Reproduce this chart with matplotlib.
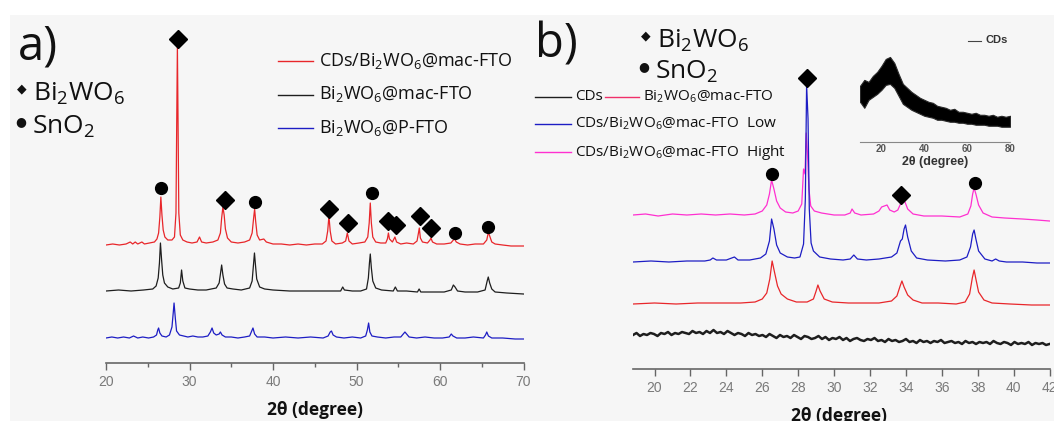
import numpy as np
import matplotlib
matplotlib.use("Agg")
import matplotlib.pyplot as plt
from matplotlib.patches import Rectangle

plt.rcParams['font.family'] = ['Open Sans', 'DejaVu Sans']
plt.rcParams['mathtext.fontset'] = 'custom'
plt.rcParams['mathtext.rm'] = 'Open Sans'
plt.rcParams['mathtext.bf'] = 'Open Sans:bold'
plt.rcParams['text.color'] = '#111111'

BWO = r"Bi$_\mathregular{2}$WO$_\mathregular{6}$"
SNO = r"SnO$_\mathregular{2}$"

# ---------------- panel a data (2theta, intensity a.u. incl. stacking offset) ----------------
a_red = [(20, 118), (20.8, 119), (21.6, 118), (22.4, 119), (22.9, 121), (23.2, 119), (23.5, 121), (23.8, 119),
         (24.3, 121), (24.6, 119), (25.2, 120), (25.8, 121), (26.1, 124), (26.3, 130), (26.45, 146),
         (26.57, 166), (26.7, 148), (26.85, 133), (27.05, 126), (27.4, 123), (27.9, 123), (28.2, 126),
         (28.38, 150), (28.47, 240), (28.55, 317), (28.63, 240), (28.72, 150), (28.9, 128), (29.2, 123),
         (29.7, 121), (30.3, 120), (30.9, 121), (31.2, 126), (31.45, 121), (32.0, 120), (32.8, 121),
         (33.4, 123), (33.7, 130), (33.85, 145), (34.0, 156), (34.15, 148), (34.3, 134), (34.55, 125),
         (35.0, 121), (35.8, 120), (36.6, 121), (37.2, 123), (37.5, 130), (37.68, 145), (37.8, 154),
         (37.92, 142), (38.1, 128), (38.4, 123), (38.9, 124), (39.2, 121), (40, 119), (41, 119), (42, 118),
         (43, 119), (44, 118), (45, 119), (45.9, 119), (46.35, 122), (46.55, 132), (46.7, 147), (46.85, 132),
         (47.05, 122), (47.5, 119), (48.3, 120), (48.7, 122), (48.9, 130), (49.1, 122), (49.5, 119),
         (50.3, 120), (51.0, 121), (51.35, 126), (51.52, 140), (51.65, 160), (51.78, 140), (51.95, 126),
         (52.3, 121), (52.9, 120), (53.5, 120), (53.7, 124), (53.82, 130), (53.95, 124), (54.3, 121),
         (54.6, 126), (54.8, 121), (55.3, 119), (56, 120), (56.8, 119), (57.25, 122), (57.42, 130),
         (57.52, 135), (57.65, 125), (57.9, 121), (58.5, 120), (58.8, 123), (58.92, 125), (59.1, 121),
         (59.6, 119), (60.5, 119), (61.3, 120), (61.6, 123), (61.75, 124), (61.95, 121), (62.4, 119),
         (63.3, 118), (64.2, 119), (65.2, 119), (65.6, 123), (65.8, 131), (65.95, 127), (66.2, 121),
         (66.6, 119), (67.5, 118), (68.5, 117), (70, 117)]
a_black = [(20, 72), (21.5, 73), (23, 72), (24.5, 73), (25.6, 74), (26.0, 77), (26.25, 85), (26.4, 100),
           (26.52, 120), (26.65, 104), (26.8, 88), (27.0, 80), (27.4, 76), (28.0, 74), (28.7, 75), (28.9, 80),
           (29.05, 93), (29.2, 82), (29.45, 75), (30, 74), (31, 73), (32, 73), (33.2, 75), (33.55, 80),
           (33.72, 90), (33.85, 98), (34.0, 88), (34.2, 79), (34.5, 75), (35.2, 74), (36.2, 73), (37.2, 75),
           (37.5, 82), (37.65, 97), (37.78, 110), (37.9, 98), (38.05, 84), (38.4, 76), (39, 74), (40, 73),
           (42, 72), (44, 72), (46, 72), (48.1, 72), (48.35, 76), (48.55, 73), (49.5, 72), (50.5, 72),
           (51.2, 74), (51.42, 85), (51.55, 100), (51.65, 109), (51.78, 95), (51.95, 82), (52.3, 75),
           (53, 73), (54.4, 72), (54.65, 76), (54.9, 72), (56, 72), (57.3, 71), (57.5, 74), (57.7, 71),
           (59, 71), (60.5, 71), (61.35, 73), (61.6, 78), (61.8, 76), (62.1, 72), (63, 71), (64.5, 71),
           (65.4, 73), (65.65, 82), (65.78, 86), (65.95, 80), (66.2, 74), (66.6, 71), (68, 70), (70, 69)]
a_blue = [(20, 25), (20.7, 26), (21.4, 25), (22.1, 26), (22.8, 25), (23.3, 27), (23.8, 25), (24.4, 26),
          (25.1, 25), (25.7, 26), (26.05, 28), (26.2, 33), (26.3, 35), (26.45, 30), (26.7, 27), (27.2, 26),
          (27.6, 28), (27.9, 36), (28.05, 50), (28.15, 60), (28.3, 45), (28.45, 32), (28.8, 28), (29.3, 27),
          (29.8, 26), (30.4, 27), (31, 26), (31.6, 26), (32.2, 27), (32.5, 31), (32.7, 35), (32.9, 30),
          (33.2, 28), (33.55, 29), (33.7, 31), (33.9, 28), (34.3, 26), (35, 26), (35.8, 25), (36.6, 26),
          (37.2, 27), (37.45, 32), (37.6, 35), (37.8, 29), (38.1, 26), (39, 26), (40, 25), (41.5, 26),
          (43, 25), (44.5, 26), (46, 25), (46.6, 27), (46.85, 31), (47, 32), (47.2, 28), (47.6, 26),
          (48.5, 25), (49.5, 26), (50.5, 25), (51.1, 27), (51.3, 33), (51.45, 40), (51.6, 31), (51.85, 27),
          (52.5, 26), (53.5, 25), (54.5, 26), (55.3, 26), (55.6, 29), (55.8, 31), (56.0, 29), (56.3, 26),
          (57.2, 25), (58.2, 26), (59.3, 25), (60.3, 25), (61.1, 26), (61.35, 29), (61.55, 27), (62, 25),
          (63, 25), (64, 26), (65.2, 25), (65.45, 28), (65.6, 31), (65.8, 27), (66.2, 25), (67.5, 25),
          (69, 24), (70, 24)]
a_circles = [(26.6, 175), (37.8, 161), (51.8, 170), (61.8, 130), (65.75, 136)]
a_diamonds = [(28.6, 324), (34.25, 163), (46.7, 154), (48.95, 140), (53.8, 142), (54.7, 138),
              (57.6, 147), (58.9, 135)]
a_labels = ["CDs/" + BWO + "@mac-FTO", BWO + "@mac-FTO", BWO + "@P-FTO"]
a_ticks = [20, 30, 40, 50, 60, 70]
a_minor = [25, 35, 45, 55, 65]

# ---------------- panel b data ----------------
b_magenta = [(18.8, 154), (19.5, 155), (20.2, 153), (21, 155), (21.8, 154), (22.6, 155), (23.4, 154),
             (24.2, 155), (25, 154), (25.6, 155), (26.0, 158), (26.25, 164), (26.4, 175), (26.52, 189),
             (26.65, 180), (26.8, 168), (27.0, 161), (27.3, 157), (27.7, 156), (28.0, 158), (28.2, 165),
             (28.3, 200), (28.38, 195), (28.45, 236), (28.52, 215), (28.6, 180), (28.7, 163), (28.9, 158),
             (29.3, 156), (30, 154), (30.6, 154), (30.9, 156), (31.0, 160), (31.15, 156), (31.5, 154),
             (32.2, 155), (32.5, 158), (32.65, 162), (32.8, 163), (32.95, 164), (33.1, 159), (33.35, 157),
             (33.55, 159), (33.7, 165), (33.82, 169), (33.95, 167), (34.1, 160), (34.4, 155), (35, 153),
             (36, 153), (37, 152), (37.45, 155), (37.62, 163), (37.72, 175), (37.8, 181), (37.9, 175),
             (38.05, 164), (38.3, 156), (38.8, 152), (39.5, 151), (40.5, 150), (41.3, 149), (42, 148)]
b_blue = [(18.8, 107), (19.8, 108), (20.8, 107), (21.8, 108), (22.8, 108), (23.1, 109), (23.25, 111),
          (23.45, 109), (24.0, 109), (24.3, 111), (24.45, 112), (24.65, 109), (25.3, 109), (25.9, 111),
          (26.2, 115), (26.4, 128), (26.52, 150), (26.65, 140), (26.8, 124), (27.0, 116), (27.4, 112),
          (27.8, 111), (28.1, 112), (28.3, 125), (28.4, 170), (28.47, 284), (28.55, 250), (28.62, 160),
          (28.72, 126), (28.85, 118), (29.2, 112), (29.8, 110), (30.5, 109), (30.9, 110), (31.1, 114),
          (31.3, 110), (31.8, 109), (32.5, 110), (33.2, 112), (33.5, 116), (33.7, 128), (33.8, 130),
          (33.9, 140), (33.98, 144), (34.1, 132), (34.3, 118), (34.6, 111), (35.2, 109), (36.2, 108),
          (37.0, 109), (37.4, 112), (37.6, 122), (37.72, 135), (37.8, 139), (37.9, 130), (38.05, 118),
          (38.4, 110), (38.8, 108), (39.0, 110), (39.2, 108), (39.6, 107), (40.5, 107), (41.3, 106), (42, 106)]
b_red = [(18.8, 65), (20, 66), (21.2, 65), (22.4, 66), (23.6, 66), (24.8, 66), (25.6, 67), (26.0, 70),
         (26.25, 76), (26.42, 90), (26.55, 108), (26.68, 97), (26.85, 83), (27.05, 75), (27.4, 70),
         (27.9, 67), (28.5, 67), (28.85, 70), (29.0, 78), (29.1, 84), (29.22, 78), (29.45, 70), (29.9, 67),
         (30.8, 66), (31.5, 66), (32.5, 66), (33.2, 68), (33.5, 73), (33.68, 83), (33.78, 88), (33.9, 82),
         (34.1, 74), (34.4, 69), (34.9, 66), (35.8, 66), (36.8, 65), (37.3, 67), (37.55, 75), (37.7, 91),
         (37.8, 99), (37.9, 90), (38.05, 77), (38.35, 69), (38.8, 66), (39.8, 65), (41, 64), (42, 64)]
# CDs trace, evenly sampled from 18.8 to 42
b_cds = [34, 36, 33, 35, 34, 36, 35, 33, 36, 35, 37, 34, 36, 35, 37, 36, 35, 38, 36, 37,
         35, 38, 36, 39, 36, 37, 35, 38, 36, 34, 36, 35, 33, 36, 34, 35, 33, 34, 32, 35,
         33, 31, 34, 32, 33, 31, 34, 32, 30, 33, 32, 30, 31, 33, 30, 32, 29, 31, 30, 32,
         29, 31, 28, 30, 31, 29, 28, 30, 29, 31, 28, 29, 27, 30, 28, 29, 27, 28, 30, 27,
         28, 26, 29, 27, 28, 26, 28, 27, 29, 26, 27, 28, 26, 27, 25, 28, 26, 27, 25, 27,
         26, 27, 25, 28, 26, 25, 27, 26, 24, 27, 25, 26, 25, 27, 24, 26, 25, 26, 24, 25]
b_circles = [(26.56, 195), (37.83, 186)]
b_diamonds = [(28.48, 291), (33.75, 174)]
b_ticks = [20, 22, 24, 26, 28, 30, 32, 34, 36, 38, 40, 42]

# inset: CDs broad hump (upper / lower edge of the noisy band)
ins_x = [10, 12, 14, 16, 18, 20, 22, 24, 26, 28, 30, 32, 34, 36, 38, 40, 42, 44,
         46, 48, 50, 52, 54, 56, 58, 60, 62, 64, 66, 68, 70, 72, 74, 76, 78, 80]
ins_hi = [56, 62, 60, 66, 70, 76, 83, 85, 79, 68, 58, 54, 50, 47, 44, 42, 40, 39,
          36, 35, 34, 32, 33, 30, 30, 29, 28, 29, 27, 27, 26, 27, 25, 26, 25, 26]
ins_lo = [40, 34, 42, 45, 48, 52, 57, 58, 54, 46, 38, 35, 32, 30, 28, 26, 25, 24,
          22, 22, 21, 20, 20, 19, 19, 18, 18, 17, 17, 17, 16, 16, 16, 15, 15, 15]
ins_ticks = [20, 40, 60, 80]

RED = '#e8262a'
BLACK = '#1e1e1e'
BLUE = '#1d1dc4'
MAG = '#ff30d0'
PINK = '#f0306a'
GRAY = '#7a7a7a'

W, H = 1054, 421
fig = plt.figure(figsize=(W / 100, H / 100), dpi=100, facecolor='white')
fig.patches.append(Rectangle((10 / W, 0), 1, 1 - 15 / H, transform=fig.transFigure,
                             facecolor='#f6f6f6', edgecolor='none', zorder=-10))


def fx(px):
    return px / W


def fy(py):
    return 1 - py / H


def style_axis(ax, ticks, minor=None):
    for s in ['left', 'right', 'top']:
        ax.spines[s].set_visible(False)
    ax.spines['bottom'].set_color('#666666')
    ax.spines['bottom'].set_linewidth(1.2)
    ax.set_facecolor('none')
    ax.set_yticks([])
    ax.set_xticks(ticks)
    if minor is not None:
        ax.set_xticks(minor, minor=True)
    ax.tick_params(axis='x', which='both', direction='out', color='#666666', width=1.0,
                   labelcolor=GRAY, labelsize=10)
    ax.tick_params(axis='x', which='major', length=5, pad=4)
    ax.tick_params(axis='x', which='minor', length=3)
    for lab in ax.get_xticklabels():
        lab.set_fontfamily('Liberation Sans')


def draw(ax, pts, color, lw=0.9):
    x, y = zip(*pts)
    ax.plot(x, y, color=color, lw=lw)


def marks(ax, circles, diamonds):
    cx, cy = zip(*circles)
    ax.plot(cx, cy, 'o', color='black', ms=8.5, ls='none', clip_on=False, zorder=5)
    dx, dy = zip(*diamonds)
    ax.plot(dx, dy, 'D', color='black', ms=9.3, ls='none', clip_on=False, zorder=5)


def bullet_label(x, y, sym, txt, size=19):
    fig.text(fx(x), fy(y - 5), sym, fontsize=9, va='center', ha='center', family=['DejaVu Sans'])
    fig.text(fx(x + 11), fy(y), txt, fontsize=size, va='center', ha='left')


# ---------------- panel a ----------------
axa = fig.add_axes([fx(106), fy(363), fx(523.5 - 106), fy(20) - fy(363)])
axa.set_xlim(20, 70)
axa.set_ylim(0, 343)
draw(axa, a_red, RED)
draw(axa, a_black, BLACK)
draw(axa, a_blue, BLUE)
marks(axa, a_circles, a_diamonds)
style_axis(axa, a_ticks, a_minor)

fig.text(fx(18), fy(47), "a)", fontsize=34, va='center', ha='left')
bullet_label(22, 94, "\u25C6", BWO)
bullet_label(21, 127, "\u25CF", SNO)

for row, (lab, col) in enumerate(zip(a_labels, [RED, BLACK, BLUE])):
    yy = fy(61 + 33.5 * row)
    fig.add_artist(plt.Line2D([fx(278), fx(313)], [yy, yy], color=col, lw=1.0))
    fig.text(fx(319), yy, lab, fontsize=13, va='center', ha='left')

fig.text(fx(315), fy(410), "2\u03b8 (degree)", fontsize=12.5, fontweight='bold',
         ha='center', va='center')

# ---------------- panel b ----------------
axb = fig.add_axes([fx(633), fy(369), fx(1049.5 - 633), fy(20) - fy(369)])
axb.set_xlim(18.8, 42)
axb.set_ylim(0, 349)
draw(axb, b_magenta, MAG)
draw(axb, b_blue, BLUE)
draw(axb, b_red, RED)
axb.plot(np.linspace(18.8, 42, len(b_cds)), b_cds, color=BLACK, lw=1.8)
marks(axb, b_circles, b_diamonds)
style_axis(axb, b_ticks)

fig.text(fx(535), fy(45), "b)", fontsize=34, va='center', ha='left')
bullet_label(646, 41, "\u25C6", BWO)
bullet_label(644, 72, "\u25CF", SNO)

yy = fy(97)
fig.add_artist(plt.Line2D([fx(535), fx(571)], [yy, yy], color=BLACK, lw=1.0))
fig.text(fx(575), yy, "CDs", fontsize=11, va='center', ha='left')
fig.add_artist(plt.Line2D([fx(605), fx(639)], [yy, yy], color=PINK, lw=1.0))
fig.text(fx(643), yy, BWO + "@mac-FTO", fontsize=11, va='center', ha='left')
for row, (lab, col) in enumerate([("CDs/" + BWO + "@mac-FTO  Low", BLUE),
                                  ("CDs/" + BWO + "@mac-FTO  Hight", MAG)]):
    yy = fy(124 + 28 * row)
    fig.add_artist(plt.Line2D([fx(535), fx(571)], [yy, yy], color=col, lw=1.0))
    fig.text(fx(575), yy, lab, fontsize=11, va='center', ha='left')

fig.text(fx(839), fy(416), "2\u03b8 (degree)", fontsize=12.5, fontweight='bold',
         ha='center', va='center')

# ---------------- inset ----------------
axi = fig.add_axes([fx(860), fy(141.7), fx(1010 - 860), fy(42) - fy(141.7)])
axi.set_xlim(10, 80)
axi.set_ylim(0, 100)
axi.fill_between(ins_x, ins_lo, ins_hi, color='black', lw=0.8, edgecolor='#2a2a2a')
for s in ['left', 'right', 'top']:
    axi.spines[s].set_visible(False)
axi.spines['bottom'].set_color('#888888')
axi.set_facecolor('none')
axi.set_yticks([])
axi.set_xticks(ins_ticks)
axi.tick_params(axis='x', length=0, pad=2, labelsize=7, labelcolor='#555555')
for lab in axi.get_xticklabels():
    lab.set_fontfamily('Liberation Sans')
    lab.set_fontweight('bold')
axi.set_xlabel("2\u03b8 (degree)", fontsize=9, fontweight='bold', color='#333333',
               family='Liberation Sans', labelpad=1)
fig.add_artist(plt.Line2D([fx(968), fx(981)], [fy(40.5), fy(40.5)], color='#444444', lw=0.8))
fig.text(fx(985), fy(40), "CDs", fontsize=8, fontweight='bold', color='#333333',
         va='center', ha='left', family='Liberation Sans')

fig.savefig("out.png", dpi=100, facecolor=fig.get_facecolor())
